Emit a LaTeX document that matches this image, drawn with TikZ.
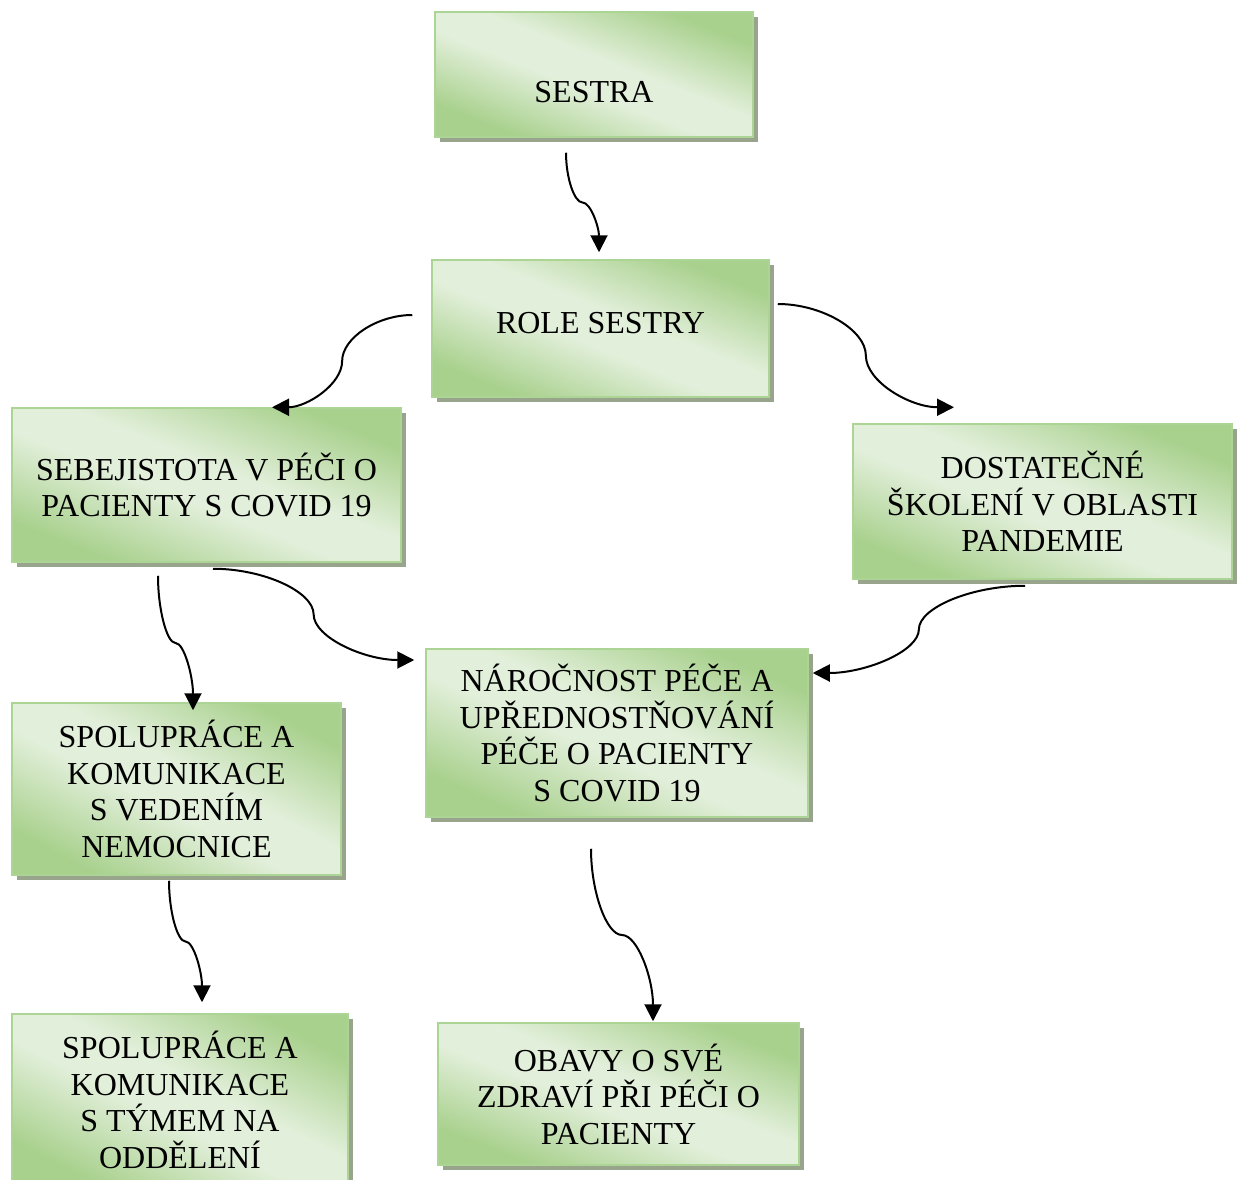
\documentclass[tikz,border=0pt]{standalone}
\usepackage{fontspec}
\setmainfont{Liberation Serif}
\usetikzlibrary{arrows.meta,calc,shadows}
\definecolor{gborder}{RGB}{172,212,148}
\definecolor{gshadow}{RGB}{152,165,140}
% light band from top-left to bottom-right corner, dark top-right / bottom-left corners
\pgfdeclarefunctionalshading{gshade}{\pgfpointorigin}{\pgfpoint{100bp}{100bp}}{}{
  50 sub exch 50 sub add 50 div abs
  0.15 sub 0.58 div
  dup 0 lt {pop 0} if dup 1 gt {pop 1} if
  dup -0.2235 mul 0.8863 add exch
  dup -0.1176 mul 0.9373 add exch
  -0.2980 mul 0.8549 add
}
\tikzset{
  box/.style={draw=gborder, line width=1.5pt, shading=gshade,
    align=center, inner sep=0pt, font=\fontsize{32}{36.5}\selectfont,
    drop shadow={fill=gshadow, opacity=1, shadow xshift=5pt, shadow yshift=-5pt}},
  conn/.style={line width=2pt, -{Triangle[length=17pt,width=17pt]}}
}
\newcommand\vconn[2]{\draw[conn] let \p1=(#1), \p2=(#2) in (\p1) .. controls (\x1,{\y1+(\y2-\y1)/4}) and ({\x1+(\x2-\x1)/4},{(\y1+\y2)/2}) .. ({(\x1+\x2)/2},{(\y1+\y2)/2}) .. controls ({\x1+3*(\x2-\x1)/4},{(\y1+\y2)/2}) and (\x2,{\y1+3*(\y2-\y1)/4}) .. (\p2);}
\newcommand\hconn[2]{\draw[conn] let \p1=(#1), \p2=(#2) in (\p1) .. controls ({\x1+(\x2-\x1)/4},\y1) and ({(\x1+\x2)/2},{\y1+(\y2-\y1)/4}) .. ({(\x1+\x2)/2},{(\y1+\y2)/2}) .. controls ({(\x1+\x2)/2},{\y1+3*(\y2-\y1)/4}) and ({\x1+3*(\x2-\x1)/4},\y2) .. (\p2);}
\begin{document}
\begin{tikzpicture}[x=1pt,y=-1pt]
\useasboundingbox[fill=white] (0,0) rectangle (1240,1180);
\node[box, minimum width=318pt, minimum height=125pt, text height=56pt, text depth=0pt] (sestra) at (594,74.5) {SESTRA};
\node[box, minimum width=337pt, minimum height=137pt, text depth=12pt] (role) at (600.5,328.5) {ROLE SESTRY};
\node[box, minimum width=389pt, minimum height=154pt] (sebej) at (206.5,485) {SEBEJISTOTA V PÉČI O\\PACIENTY S COVID 19};
\node[box, minimum width=379pt, minimum height=155pt] (dost) at (1042.5,501.5) {DOSTATEČNÉ\\ŠKOLENÍ V OBLASTI\\PANDEMIE};
\node[box, minimum width=382pt, minimum height=168pt] (naroc) at (617,733) {NÁROČNOST PÉČE A\\UPŘEDNOSTŇOVÁNÍ\\PÉČE O PACIENTY\\S COVID 19};
\node[box, minimum width=329pt, minimum height=172pt] (spola) at (176.5,789) {SPOLUPRÁCE A\\KOMUNIKACE\\S VEDENÍM\\NEMOCNICE};
\node[box, minimum width=336pt, minimum height=172pt] (spolb) at (180,1100) {SPOLUPRÁCE A\\KOMUNIKACE\\S TÝMEM NA\\ODDĚLENÍ};
\node[box, minimum width=361pt, minimum height=142pt] (obavy) at (618.5,1094) {OBAVY O SVÉ\\ZDRAVÍ PŘI PÉČI O\\PACIENTY};
% connector ends
\coordinate (a1s) at ($(sestra.south)+(-28,15)$);
\coordinate (a1e) at ($(role.north)+(-1.5,-7)$);
\coordinate (a2s) at ($(role.west)+(-19,-13.5)$);
\coordinate (a2e) at ($(sebej.north)+(65.5,0)$);
\coordinate (a3s) at ($(role.east)+(8,-24.5)$);
\coordinate (a3e) at ($(dost.north)+(-88.5,-16)$);
\coordinate (a4s) at ($(sebej.south)+(-48.5,13)$);
\coordinate (a4e) at ($(spola.north)+(16.5,8)$);
\coordinate (a5s) at ($(sebej.south)+(6.5,6)$);
\coordinate (a5e) at ($(naroc.west)+(-11,-73)$);
\coordinate (a6s) at ($(dost.south)+(-17.5,6)$);
\coordinate (a6e) at ($(naroc.east)+(4,-60)$);
\coordinate (a7s) at ($(spola.south)+(-7.5,5)$);
\coordinate (a7e) at ($(spolb.north)+(22,-11)$);
\coordinate (a8s) at ($(naroc.south)+(-26,31)$);
\coordinate (a8e) at ($(obavy.north)+(34.5,-1)$);
\vconn{a1s}{a1e}
\hconn{a2s}{a2e}
\hconn{a3s}{a3e}
\vconn{a4s}{a4e}
\hconn{a5s}{a5e}
\hconn{a6s}{a6e}
\vconn{a7s}{a7e}
\vconn{a8s}{a8e}
\end{tikzpicture}
\end{document}
